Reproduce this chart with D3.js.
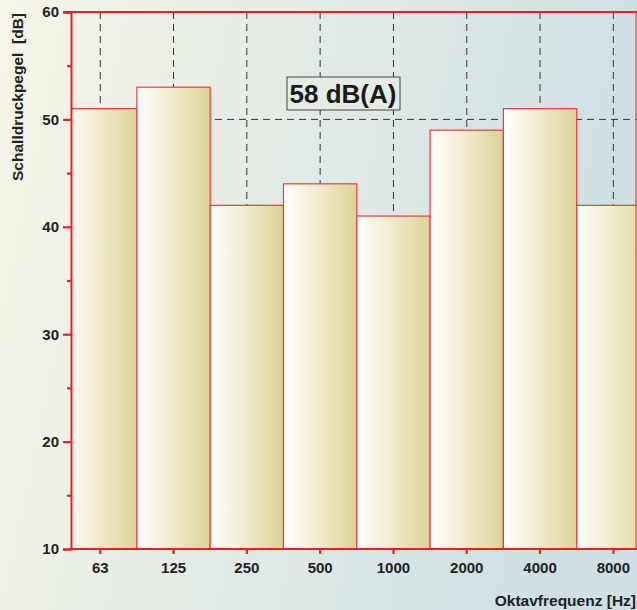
<!DOCTYPE html>
<html>
<head>
<meta charset="utf-8">
<script src="https://cdn.jsdelivr.net/npm/d3@7"></script>
<style>
body { margin: 0; }
svg { display: block; font-family: "Liberation Sans", Arial, sans-serif; }
</style>
</head>
<body>
<svg width="637" height="610"></svg>
<script>
// waarden
var bands = ["63", "125", "250", "500", "1000", "2000", "4000", "8000"];
var levels = [51, 53, 42, 44, 41, 49, 51, 42];
var yTicks = [10, 20, 30, 40, 50, 60];
var totalLabel = "58 dB(A)";

var svg = d3.select("svg"),
    width = +svg.attr("width"),
    height = +svg.attr("height");

var plot = { left: 71, top: 12, right: 636, bottom: 549 };

var defs = svg.append("defs");

var bg = defs.append("linearGradient").attr("id", "bg")
    .attr("x1", "0%").attr("y1", "0%").attr("x2", "100%").attr("y2", "20%");
bg.append("stop").attr("offset", "0%").attr("stop-color", "#f6f6e8");
bg.append("stop").attr("offset", "100%").attr("stop-color", "#cfdfe4");

var barFill = defs.append("linearGradient").attr("id", "barFill")
    .attr("x1", "0%").attr("y1", "0%").attr("x2", "100%").attr("y2", "0%");
barFill.append("stop").attr("offset", "0%").attr("stop-color", "#ffffff");
barFill.append("stop").attr("offset", "45%").attr("stop-color", "#f1ecd0");
barFill.append("stop").attr("offset", "100%").attr("stop-color", "#dcd396");

defs.append("clipPath").attr("id", "clip")
    .append("rect")
    .attr("x", plot.left).attr("y", 0)
    .attr("width", width - plot.left).attr("height", plot.bottom + 1);

svg.append("rect").attr("width", width).attr("height", height).attr("fill", "url(#bg)");

// schalen
var x = d3.scaleBand().domain(bands).range([63.6, 650]).padding(0);
var y = d3.scaleLinear().domain([10, 60]).range([plot.bottom, plot.top]);

var data = bands.map(function (b, i) { return { band: b, level: levels[i] }; });

// rasterlijnen
svg.append("g")
    .selectAll("line.vgrid")
    .data(bands)
    .enter().append("line")
    .attr("x1", function (d) { return x(d) + x.bandwidth() / 2; })
    .attr("x2", function (d) { return x(d) + x.bandwidth() / 2; })
    .attr("y1", plot.top)
    .attr("y2", plot.bottom)
    .attr("stroke", "#333")
    .attr("stroke-width", 1)
    .attr("stroke-dasharray", "7,5");

svg.append("g")
    .selectAll("line.hgrid")
    .data(yTicks.slice(1, -1))
    .enter().append("line")
    .attr("x1", plot.left)
    .attr("x2", width)
    .attr("y1", function (d) { return y(d); })
    .attr("y2", function (d) { return y(d); })
    .attr("stroke", "#333")
    .attr("stroke-width", 1)
    .attr("stroke-dasharray", "7,5");

// staven
svg.append("g")
    .attr("clip-path", "url(#clip)")
    .selectAll(".bar")
    .data(data)
    .enter().append("rect")
    .attr("class", "bar")
    .attr("x", function (d) { return x(d.band); })
    .attr("y", function (d) { return y(d.level); })
    .attr("width", x.bandwidth())
    .attr("height", function (d) { return plot.bottom - y(d.level); })
    .attr("fill", "url(#barFill)")
    .attr("stroke", "#f0383c")
    .attr("stroke-width", 1.2);

// kader boven en rechts
svg.append("line")
    .attr("x1", 64).attr("x2", width)
    .attr("y1", plot.top).attr("y2", plot.top)
    .attr("stroke", "#ee1c25").attr("stroke-width", 2.2);
svg.append("line")
    .attr("x1", plot.right).attr("x2", plot.right)
    .attr("y1", plot.top).attr("y2", plot.bottom)
    .attr("stroke", "#f04048").attr("stroke-width", 1.2);

// y-as
var yAxis = svg.append("g")
    .attr("transform", "translate(" + plot.left + ",0)")
    .call(d3.axisLeft(y).tickValues(yTicks).tickSize(8).tickPadding(4).tickFormat(d3.format("d")));
yAxis.select(".domain").attr("stroke", "#ee1c25").attr("stroke-width", 2);
yAxis.selectAll(".tick line").attr("stroke", "#ee1c25").attr("stroke-width", 2.2);
yAxis.selectAll(".tick text")
    .attr("fill", "#222").attr("font-size", "15px").attr("font-weight", "bold")
    .attr("font-family", "Liberation Sans, Arial, sans-serif");

var yMinor = svg.append("g")
    .attr("transform", "translate(" + plot.left + ",0)")
    .call(d3.axisLeft(y).tickValues([15, 25, 35, 45, 55]).tickSize(4).tickFormat(""));
yMinor.select(".domain").remove();
yMinor.selectAll(".tick line").attr("stroke", "#ee1c25").attr("stroke-width", 2.2);

// x-as
var xAxis = svg.append("g")
    .attr("transform", "translate(0," + plot.bottom + ")")
    .call(d3.axisBottom(x).tickSize(5).tickPadding(8).tickSizeOuter(0));
xAxis.select(".domain").attr("d", "M" + plot.left + ",0H" + width)
    .attr("stroke", "#ee1c25").attr("stroke-width", 2);
xAxis.selectAll(".tick line").attr("stroke", "#ee1c25").attr("stroke-width", 2.2);
xAxis.selectAll(".tick text")
    .attr("fill", "#222").attr("font-size", "15px").attr("font-weight", "bold")
    .attr("font-family", "Liberation Sans, Arial, sans-serif");

// astitels
svg.append("text")
    .attr("transform", "translate(23,97) rotate(-90)")
    .attr("text-anchor", "middle")
    .attr("font-size", "15.5px")
    .attr("font-weight", "bold")
    .attr("fill", "#222")
    .attr("xml:space", "preserve")
    .text("Schalldruckpegel  [dB]");

svg.append("text")
    .attr("x", 636)
    .attr("y", 606)
    .attr("text-anchor", "end")
    .attr("font-size", "15.5px")
    .attr("font-weight", "bold")
    .attr("fill", "#222")
    .text("Oktavfrequenz [Hz]");

// totaal label
var lbl = svg.append("g").attr("transform", "translate(343,93)");
lbl.append("rect")
    .attr("x", -56).attr("y", -16).attr("width", 113).attr("height", 33)
    .attr("fill", "#e6ebe6").attr("stroke", "#444").attr("stroke-width", 1);
lbl.append("text")
    .attr("text-anchor", "middle")
    .attr("y", 10)
    .attr("font-size", "26px")
    .attr("font-weight", "bold")
    .attr("fill", "#1a1a1a")
    .text(totalLabel);
</script>
</body>
</html>
